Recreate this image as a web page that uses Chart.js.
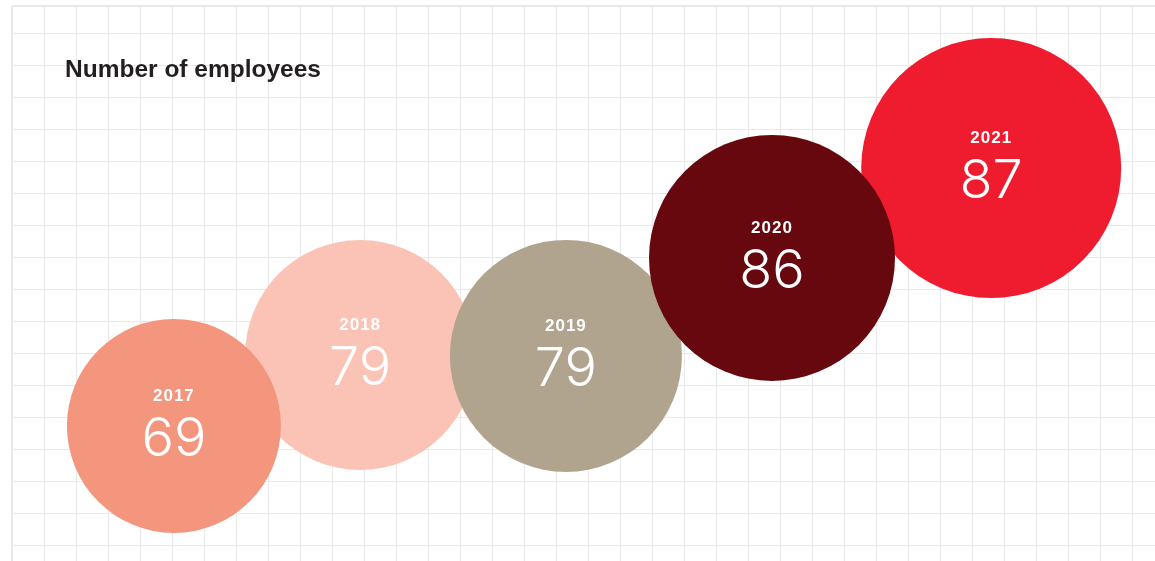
<!DOCTYPE html>
<html>
<head>
<meta charset="utf-8">
<script src="https://cdn.jsdelivr.net/npm/chart.js@4.4.1/dist/chart.umd.min.js"></script>
<style>
  html, body { margin: 0; padding: 0; background: #fff; }
  #wrap { position: relative; width: 1155px; height: 561px; }
</style>
</head>
<body>
<div id="wrap"><canvas id="employeesChart"></canvas></div>
<script>
// data
const years = ['2017', '2018', '2019', '2020', '2021'];
const employees = [69, 79, 79, 86, 87];

// layout of the bubbles, in grid cells (1 cell = 32px), and radius in px
const cellX = [5.06, 10.88, 17.31, 23.75, 30.6];
const cellY = [12.28, 10.06, 10.09, 7.03, 4.22];
const radius = [107, 115, 116, 123, 130];
const drawOrder = [3, 4, 2, 0, 1]; // lower = drawn on top
const colours = ['#F4957D', '#FAC3B5', '#B0A48F', '#67080E', '#EE1C2E'];

const CELL = 32;

function intTicks(scale) {
  const ticks = [];
  if (scale.axis === 'y') ticks.push({ value: scale.min }); // top border
  for (let v = Math.ceil(scale.min); v <= scale.max; v++) ticks.push({ value: v });
  scale.ticks = ticks;
}

const gridOpts = {
  color: '#e9e9e9',
  lineWidth: ctx => (ctx.index === 0 ? 2 : 1),
  drawTicks: false
};

const labelsPlugin = {
  id: 'bubbleLabels',
  afterDatasetsDraw(chart) {
    const c = chart.ctx;
    c.save();
    c.fillStyle = '#fff';
    c.textAlign = 'center';
    c.textBaseline = 'middle';
    chart.data.datasets.forEach((ds, i) => {
      const el = chart.getDatasetMeta(i).data[0];
      c.font = 'bold 17px "Liberation Sans", Arial, sans-serif';
      c.letterSpacing = '1px';
      c.fillText(ds.label, el.x, el.y - 30);
      c.font = '300 54px Inter, Roboto, "Liberation Sans", sans-serif';
      c.letterSpacing = '0px';
      c.fillText(String(employees[i]), el.x, el.y + 14);
    });
    // title
    const a = chart.chartArea;
    c.fillStyle = '#231f20';
    c.textAlign = 'left';
    c.font = 'bold 24.5px "Liberation Sans", Arial, sans-serif';
    c.fillText('Number of employees', a.left + 53, a.top + 64);
    c.restore();
  }
};

new Chart(document.getElementById('employeesChart'), {
  type: 'bubble',
  data: {
    datasets: years.map((y, i) => ({
      label: y,
      data: [{ x: cellX[i], y: cellY[i], r: radius[i] }],
      backgroundColor: colours[i],
      borderWidth: 0,
      order: drawOrder[i],
      clip: false
    }))
  },
  options: {
    responsive: true,
    maintainAspectRatio: false,
    animation: false,
    events: [],
    layout: { autoPadding: false, padding: { left: 12, top: 6, right: 0, bottom: 0 } },
    plugins: {
      legend: { display: false },
      tooltip: { enabled: false },
      title: { display: false }
    },
    scales: {
      x: {
        type: 'linear',
        min: 0,
        max: (1155 - 12) / CELL,
        afterBuildTicks: intTicks,
        afterFit: s => { s.height = 0; },
        ticks: { display: false },
        border: { display: false },
        grid: gridOpts
      },
      y: {
        type: 'linear',
        reverse: true,
        min: -27 / CELL,
        max: (561 - 33) / CELL,
        afterBuildTicks: intTicks,
        afterFit: s => { s.width = 0; },
        ticks: { display: false },
        border: { display: false },
        grid: gridOpts
      }
    }
  },
  plugins: [labelsPlugin]
});
</script>
</body>
</html>
